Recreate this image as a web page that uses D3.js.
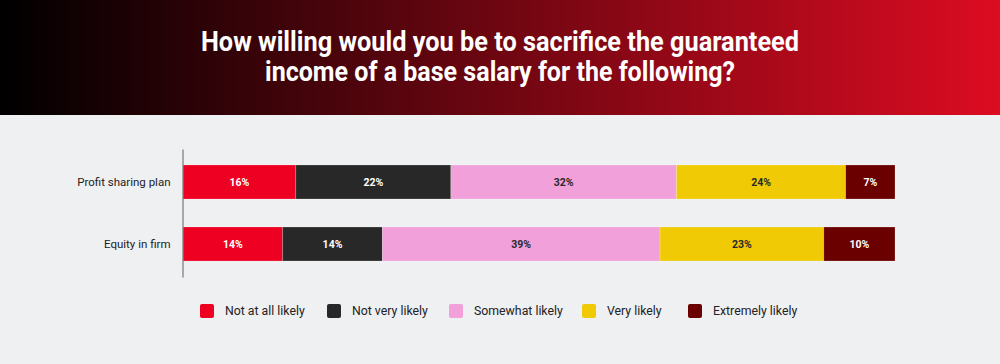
<!DOCTYPE html>
<html>
<head>
<meta charset="utf-8">
<script src="https://cdn.jsdelivr.net/npm/d3@7"></script>
<style>
  html, body { margin: 0; padding: 0; background: #eff0f2; }
  svg { display: block; }
</style>
</head>
<body>
<svg id="chart" width="1000" height="364"></svg>
<script>
const titleLines = ["How willing would you be to sacrifice the guaranteed", "income of a base salary for the following?"];
const categories = ["Profit sharing plan", "Equity in firm"];
const seriesNames = ["Not at all likely", "Not very likely", "Somewhat likely", "Very likely", "Extremely likely"];
const notAtAll   = [16, 14];
const notVery    = [22, 14];
const somewhat   = [32, 39];
const veryLikely = [24, 23];
const extremely  = [7, 10];
const colors = ["#ee0022", "#282828", "#f1a0da", "#f0cb05", "#6b0000"];
const labelColors = ["#ffffff", "#ffffff", "#2a2a2a", "#2a2a2a", "#ffffff"];

const seriesValues = [notAtAll, notVery, somewhat, veryLikely, extremely];
const rows = categories.map((c, i) => {
  const r = { category: c };
  seriesNames.forEach((s, j) => r[s] = seriesValues[j][i]);
  return r;
});

const svg = d3.select("#chart");
const W = 1000, H = 364;

// header
const defs = svg.append("defs");
const grad = defs.append("linearGradient").attr("id", "hdr").attr("x1", "0").attr("x2", "1").attr("y1", "0").attr("y2", "0");
grad.append("stop").attr("offset", "0").attr("stop-color", "#000000");
grad.append("stop").attr("offset", "1").attr("stop-color", "#dc0c22");
svg.append("rect").attr("x", 0).attr("y", 0).attr("width", W).attr("height", 115).attr("fill", "url(#hdr)");
svg.append("rect").attr("x", 0).attr("y", 115).attr("width", W).attr("height", H - 115).attr("fill", "#eff0f2");

const titleWidths = [598, 470];
titleLines.forEach((t, i) => {
  svg.append("text")
    .attr("x", 500).attr("y", 50.5 + i * 30)
    .attr("text-anchor", "middle")
    .attr("font-family", "Roboto, 'Open Sans', sans-serif")
    .attr("font-weight", 700)
    .attr("font-size", 27)
    .attr("fill", "#ffffff")
    .attr("textLength", titleWidths[i])
    .attr("lengthAdjust", "spacingAndGlyphs")
    .text(t);
});

// scales
const x = d3.scaleLinear().domain([0, 1]).range([183, 895]);
const y = d3.scaleBand().domain(categories).range([149, 277]).paddingInner(0.4516).paddingOuter(0.258);

const stack = d3.stack().keys(seriesNames).offset(d3.stackOffsetExpand);
const stacked = stack(rows);

const g = svg.append("g");
stacked.forEach((layer, si) => {
  const lg = g.append("g");
  lg.selectAll("rect").data(layer).join("rect")
    .attr("x", d => x(d[0]))
    .attr("y", d => y(d.data.category))
    .attr("width", d => x(d[1]) - x(d[0]))
    .attr("height", y.bandwidth())
    .attr("fill", colors[si])
    .attr("stroke", "#ffffff").attr("stroke-opacity", 0.25).attr("stroke-width", 0.8);
  lg.selectAll("text").data(layer).join("text")
    .attr("x", d => (x(d[0]) + x(d[1])) / 2)
    .attr("y", d => y(d.data.category) + y.bandwidth() / 2)
    .attr("dy", "0.36em")
    .attr("text-anchor", "middle")
    .attr("font-family", "Roboto, sans-serif")
    .attr("font-weight", 700)
    .attr("font-size", 10.5)
    .attr("fill", labelColors[si])
    .text(d => d.data[seriesNames[si]] + "%");
});

// y axis
const yAxis = d3.axisLeft(y).tickSize(0).tickPadding(12);
const ya = svg.append("g").attr("transform", "translate(182.5,0)").call(yAxis);
ya.select(".domain").attr("stroke", "#777777").attr("stroke-width", 1.2);
ya.selectAll("text")
  .attr("font-family", "Roboto, sans-serif")
  .attr("font-size", 11.5)
  .attr("fill", "#222222");

// legend
const legendX = [200, 327, 449, 582, 688];
const lg = svg.append("g");
seriesNames.forEach((s, i) => {
  lg.append("rect").attr("x", legendX[i]).attr("y", 304).attr("width", 14).attr("height", 14)
    .attr("rx", 2).attr("fill", colors[i]);
  lg.append("text").attr("x", legendX[i] + 25).attr("y", 311).attr("dy", "0.36em")
    .attr("font-family", "Roboto, sans-serif").attr("font-size", 12.3).attr("fill", "#222222")
    .text(s);
});
</script>
</body>
</html>
